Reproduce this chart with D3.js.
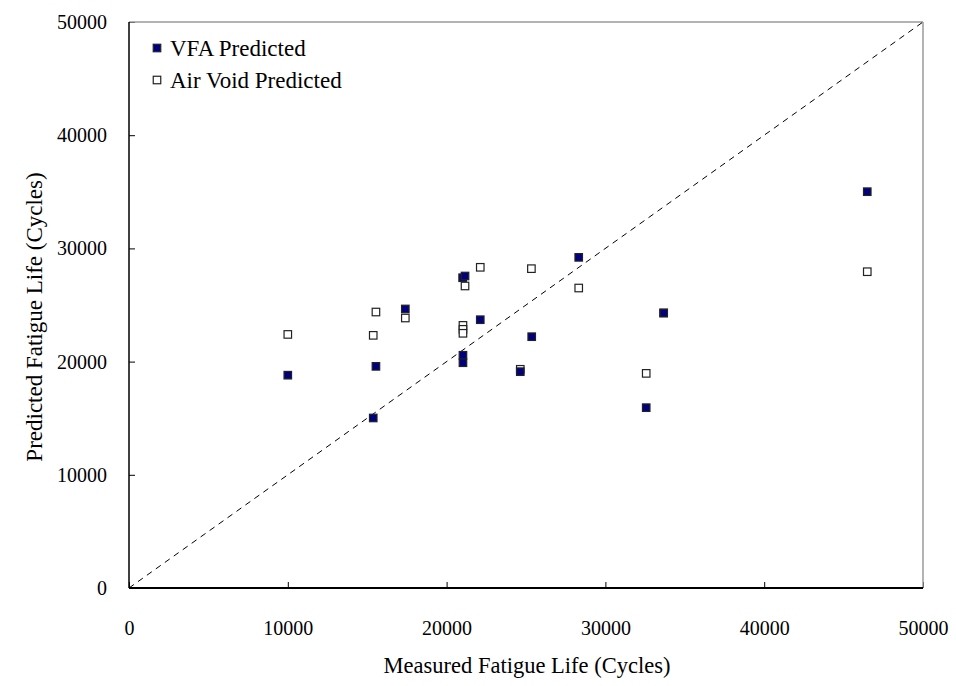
<!DOCTYPE html>
<html>
<head>
<meta charset="utf-8">
<script src="https://cdn.jsdelivr.net/npm/d3@7"></script>
<style>
  body { margin: 0; background: #fff; }
  .chart text { font-family: "Liberation Serif", "Times New Roman", serif; fill: #000; }
</style>
</head>
<body>
<div id="chart"></div>
<script>
// Measured fatigue life (cycles) for each series
var vfa_measured  = [10000, 15380, 15550, 17400, 21010, 21160, 21030, 21030, 22120, 24640, 25360, 28320, 32570, 33670, 46490];
var vfa_predicted = [18800, 15020, 19580, 24650, 27410, 27560, 20560, 19900, 23700, 19110, 22200, 29210, 15930, 24290, 35010];
var av_measured   = [10000, 15380, 15550, 17400, 21030, 21030, 21030, 21160, 22120, 24640, 25340, 28320, 32570, 33670, 46490];
var av_predicted  = [22400, 22320, 24380, 23850, 23200, 22850, 22500, 26680, 28330, 19320, 28210, 26500, 18960, 24300, 27940];
var tick_values   = [0, 10000, 20000, 30000, 40000, 50000];
var series_names  = ["VFA Predicted", "Air Void Predicted"];

var width_chart  = 956;
var height_chart = 686;
var margin_chart = {top: 22, right: 33, bottom: 98, left: 129};
var plot_width   = width_chart - margin_chart.left - margin_chart.right;
var plot_height  = height_chart - margin_chart.top - margin_chart.bottom;
var marker_size  = 7.5;

var x_scale = d3.scaleLinear().domain([0, 50000]).range([0, plot_width]);
var y_scale = d3.scaleLinear().domain([0, 50000]).range([plot_height, 0]);

var svg_chart = d3.select("#chart").append("svg")
  .attr("class", "chart")
  .attr("width", width_chart)
  .attr("height", height_chart);

var g_plot = svg_chart.append("g")
  .attr("transform", "translate(" + margin_chart.left + "," + margin_chart.top + ")");

// axes, ticks pointing into the plot
var x_axis = g_plot.append("g")
  .attr("transform", "translate(0," + plot_height + ")")
  .call(d3.axisBottom(x_scale).tickValues(tick_values).tickFormat(d3.format("d"))
    .tickSizeInner(-6).tickSizeOuter(0).tickPadding(33));
var y_axis = g_plot.append("g")
  .call(d3.axisLeft(y_scale).tickValues(tick_values).tickFormat(d3.format("d"))
    .tickSizeInner(-6).tickSizeOuter(0).tickPadding(22));

[x_axis, y_axis].forEach(function (ax) {
  ax.select(".domain").remove();
  ax.selectAll(".tick line").attr("stroke", "#000");
  ax.selectAll(".tick text").style("font-size", "20px");
});

// frame: top and right grey, left and bottom black
g_plot.append("line").attr("x1", 0).attr("x2", plot_width).attr("y1", 0).attr("y2", 0)
  .attr("stroke", "#9a9a9a").attr("stroke-width", 1.5);
g_plot.append("line").attr("x1", plot_width).attr("x2", plot_width).attr("y1", 0).attr("y2", plot_height)
  .attr("stroke", "#9a9a9a").attr("stroke-width", 1.5);
g_plot.append("line").attr("x1", 0).attr("x2", 0).attr("y1", 0).attr("y2", plot_height)
  .attr("stroke", "#000").attr("stroke-width", 1.5);
g_plot.append("line").attr("x1", 0).attr("x2", plot_width).attr("y1", plot_height).attr("y2", plot_height)
  .attr("stroke", "#000").attr("stroke-width", 1.8);

// line of equality
g_plot.append("line")
  .attr("x1", x_scale(0)).attr("y1", y_scale(0))
  .attr("x2", x_scale(50000)).attr("y2", y_scale(50000))
  .attr("stroke", "#000").attr("stroke-width", 1)
  .attr("stroke-dasharray", "6,5");

// air void series first, VFA drawn on top
g_plot.append("g").selectAll("rect")
  .data(d3.zip(av_measured, av_predicted))
  .enter().append("rect")
  .attr("x", function (d) { return x_scale(d[0]) - marker_size/2; })
  .attr("y", function (d) { return y_scale(d[1]) - marker_size/2; })
  .attr("width", marker_size).attr("height", marker_size)
  .attr("fill", "#fff").attr("stroke", "#222").attr("stroke-width", 1.2);

g_plot.append("g").selectAll("rect")
  .data(d3.zip(vfa_measured, vfa_predicted))
  .enter().append("rect")
  .attr("x", function (d) { return x_scale(d[0]) - marker_size/2; })
  .attr("y", function (d) { return y_scale(d[1]) - marker_size/2; })
  .attr("width", marker_size).attr("height", marker_size)
  .attr("fill", "#000080").attr("stroke", "#222").attr("stroke-width", 1.2);

// legend
var legend_fill = ["#000080", "#fff"];
var legend = g_plot.append("g").attr("transform", "translate(28,26)");
series_names.forEach(function (name, i) {
  var row = legend.append("g").attr("transform", "translate(0," + (i*32) + ")");
  row.append("rect")
    .attr("x", -marker_size/2).attr("y", -marker_size/2)
    .attr("width", marker_size).attr("height", marker_size)
    .attr("fill", legend_fill[i]).attr("stroke", "#222").attr("stroke-width", 1.2);
  row.append("text")
    .attr("x", 13).attr("dy", "0.35em")
    .style("font-size", "23px")
    .text(name);
});

// axis titles
svg_chart.append("text")
  .attr("x", margin_chart.left + plot_width/2 + 1)
  .attr("y", 673)
  .attr("text-anchor", "middle")
  .style("font-size", "22.5px")
  .text("Measured Fatigue Life (Cycles)");

svg_chart.append("text")
  .attr("transform", "translate(42," + (margin_chart.top + plot_height/2 + 12) + ") rotate(-90)")
  .attr("text-anchor", "middle")
  .style("font-size", "23px")
  .text("Predicted Fatigue Life (Cycles)");
</script>
</body>
</html>
